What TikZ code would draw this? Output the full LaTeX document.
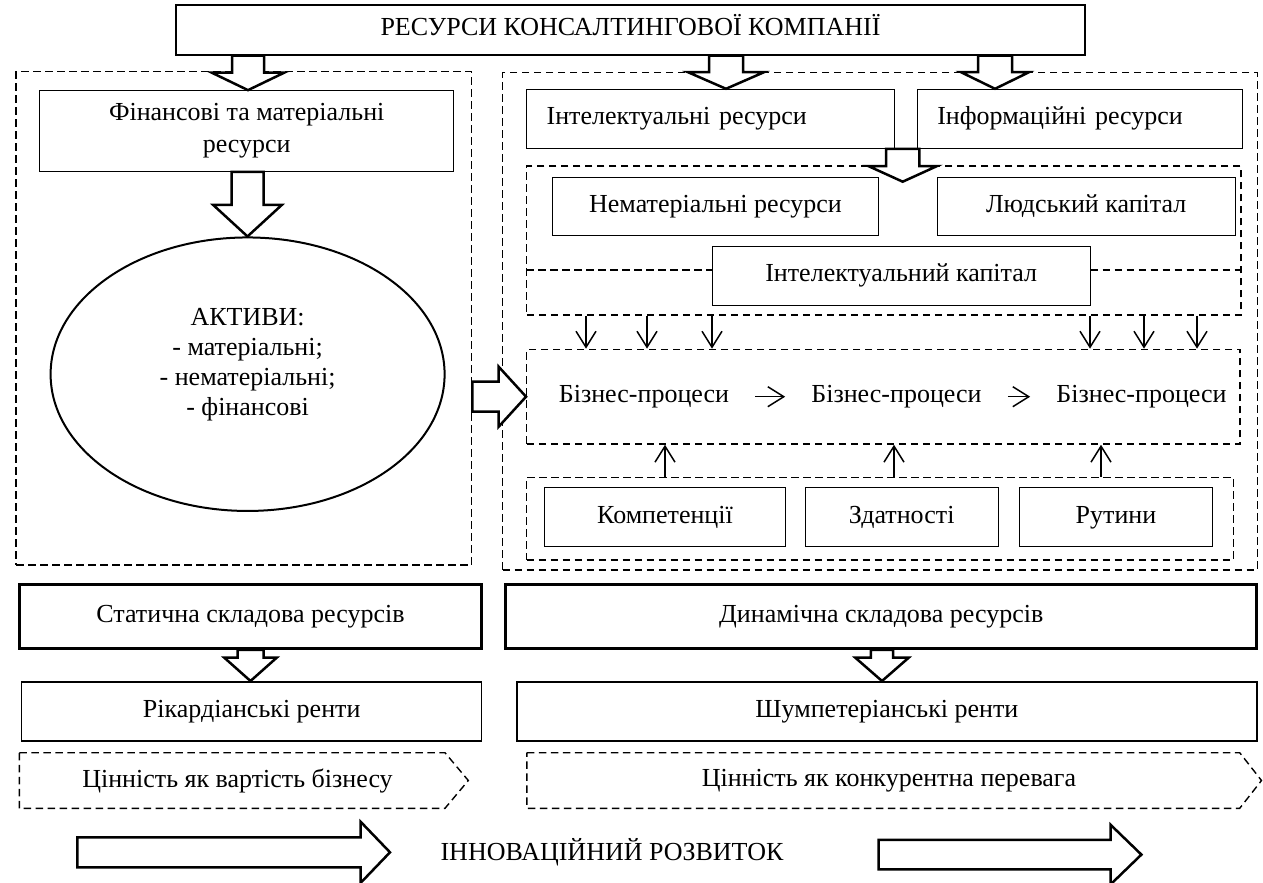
\documentclass[tikz,border=0pt]{standalone}
\usepackage{fontspec}
\setmainfont{Liberation Serif}
\usetikzlibrary{arrows.meta,shapes.geometric,calc}

% hollow block arrow: from, to, stem half width, head half width, head length
\newcommand{\fatarrow}[5]{%
\coordinate (fa-s) at #1;
\coordinate (fa-t) at #2;
\coordinate (fa-h) at ($(fa-t)!#5pt!(fa-s)$);
\draw[fatarr] ($(fa-s)!#3pt!90:(fa-t)$) -- ($(fa-h)!#3pt!90:(fa-t)$) -- ($(fa-h)!#4pt!90:(fa-t)$) -- (fa-t)
  -- ($(fa-h)!#4pt!-90:(fa-t)$) -- ($(fa-h)!#3pt!-90:(fa-t)$) -- ($(fa-s)!#3pt!-90:(fa-t)$) -- cycle;}

\begin{document}
\begin{tikzpicture}[x=1pt,y=-1pt,
  every node/.style={font=\fontsize{26}{31}\selectfont},
  frame/.style={draw,line width=1pt,inner sep=0pt,align=center},
  box/.style={frame,text height=17pt,text depth=5pt},
  boldbox/.style={box,line width=3pt},
  dashbox/.style={draw,line width=1.4pt,dash pattern=on 7.5pt off 4.5pt,inner sep=0pt},
  thinarr/.style={line width=1.5pt,-{Straight Barb[length=16pt,width=20pt]}},
  fatarr/.style={line width=2.5pt,fill=white,line join=miter}]
\useasboundingbox (0,0) rectangle (1263,883);

% dashed groups
\node[dashbox,minimum width=455.7pt,minimum height=493.3pt] (left) at (243.9,318.4) {};
\node[dashbox,minimum width=754.6pt,minimum height=497.3pt] (right) at (880,321.4) {};
\node[dashbox,minimum width=714.3pt,minimum height=149pt] (grp1) at (883.9,240.5) {};
\node[dashbox,minimum width=713.3pt,minimum height=94.7pt] (proc) at (883.4,396.7) {};
\node[dashbox,minimum width=706.6pt,minimum height=82.7pt] (grp3) at (880,518.7) {};

\node[box,line width=1.5pt,minimum width=909pt,minimum height=50pt] (top) at (630.5,30) {РЕСУРСИ КОНСАЛТИНГОВОЇ КОМПАНІЇ};

% left part
\node[frame,minimum width=414.5pt,minimum height=80.7pt,font=\fontsize{26}{32}\selectfont] (fin) at (246.7,131) {Фінансові та матеріальні\\ресурси};
\node[draw,ellipse,line width=2pt,minimum width=394pt,minimum height=273.5pt,inner sep=0pt] (activ) at (247.6,374.2) {};
\node[align=center,font=\fontsize{26}{30}\selectfont] (activtxt) at ([yshift=10pt]activ.center) {АКТИВИ:\\- матеріальні;\\- нематеріальні;\\- фінансові};

% right part
\node[box,minimum height=59pt,text width=328.3pt,inner xsep=20pt,align=left] (intres) at (710.8,118.8) {Інтелектуальні ресурси};
\node[box,minimum height=59pt,text width=285pt,inner xsep=20pt,align=left] (infres) at (1079.8,118.8) {Інформаційні ресурси};
\node[box,minimum width=325.6pt,minimum height=58.4pt] (nemat) at (715.5,206.5) {Нематеріальні ресурси};
\node[box,minimum width=297.7pt,minimum height=58.4pt] (human) at (1086.2,206.5) {Людський капітал};
\node[box,minimum width=377.7pt,minimum height=58.3pt] (intcap) at (901.2,275.9) {Інтелектуальний капітал};
\draw[dashbox] (grp1.west |- 0,270) -- (intcap.west |- 0,270);
\draw[dashbox] (intcap.east |- 0,270) -- (grp1.east |- 0,270);

\node[inner xsep=26pt,text height=17pt,text depth=5pt] (bp1) at (644,396.7) {Бізнес-процеси};
\node[inner xsep=26pt,text height=17pt,text depth=5pt] (bp2) at (896.5,396.7) {Бізнес-процеси};
\node[inner xsep=26pt,text height=17pt,text depth=5pt] (bp3) at (1141.5,396.7) {Бізнес-процеси};
\draw[thinarr] (bp1.east) -- (bp2.west);
\draw[thinarr] (bp2.east) -- (bp3.west);

\node[box,minimum width=241.4pt,minimum height=59pt] (komp) at (665,517.2) {Компетенції};
\node[box,minimum width=193.3pt,minimum height=59pt] (zdat) at (901.7,517.2) {Здатності};
\node[box,minimum width=193.4pt,minimum height=59pt] (rut) at (1116,517.2) {Рутини};

\foreach \x in {586,647,712,1090,1144,1197}
  \draw[thinarr] (\x,0 |- grp1.south) -- (\x,0 |- proc.north);
\foreach \x in {665,894,1101}
  \draw[thinarr] (\x,0 |- grp3.north) -- (\x,0 |- proc.south);

% lower rows
\node[boldbox,minimum width=462.4pt,minimum height=64.3pt] (stat) at (250.5,616.2) {Статична складова ресурсів};
\node[boldbox,minimum width=750.9pt,minimum height=64.3pt] (dyn) at (881.3,616.2) {Динамічна складова ресурсів};
\node[box,line width=1.5pt,minimum width=460pt,minimum height=59.3pt] (ric) at (251.7,711.4) {Рікардіанські ренти};
\node[box,line width=1.5pt,minimum width=739.7pt,minimum height=59.3pt] (schum) at (886.9,711.4) {Шумпетеріанські ренти};

\draw[dashbox] (19.3,752.7) -- (445,752.7) -- (468.3,780.5) -- (445,808.3) -- (19.3,808.3) -- cycle;
\node[text height=17pt,text depth=5pt] (valL) at (237.5,781) {Цінність як вартість бізнесу};
\draw[dashbox] (526.8,752.7) -- (1239.7,752.7) -- (1261.5,780.5) -- (1239.7,808.3) -- (526.8,808.3) -- cycle;
\node[text height=17pt,text depth=5pt] (valR) at (889,780) {Цінність як конкурентна перевага};

\node[text height=17pt,text depth=5pt] (innov) at (612,854) {ІННОВАЦІЙНИЙ РОЗВИТОК};

% block arrows
\fatarrow{(248,0 |- top.south)}{(248,0 |- fin.north)}{16}{36.5}{17.6}
\fatarrow{(726,0 |- top.south)}{(726,0 |- intres.north)}{17}{38}{16.6}
\fatarrow{(995,0 |- top.south)}{(995,0 |- infres.north)}{17}{34}{16.6}
\fatarrow{(247.5,0 |- fin.south)}{(247.5,0 |- activ.north)}{16}{34.3}{31.5}
\fatarrow{(902.7,0 |- intres.south)}{(902.7,181.7)}{16.7}{34.5}{15.7}
\fatarrow{(left.east |- 0,396.7)}{(proc.west |- 0,396.7)}{15}{30}{27.4}
\fatarrow{(250.5,0 |- stat.south)}{(250.5,0 |- ric.north)}{13}{26.3}{23.4}
\fatarrow{(882,0 |- dyn.south)}{(882,0 |- schum.north)}{11.2}{26.8}{23.4}
\fatarrow{(77.3,852.3)}{(390,852.3)}{15}{30.5}{29.3}
\fatarrow{(878.6,854.6)}{(1141.4,854.6)}{14.7}{29.7}{30.7}
\end{tikzpicture}
\end{document}
